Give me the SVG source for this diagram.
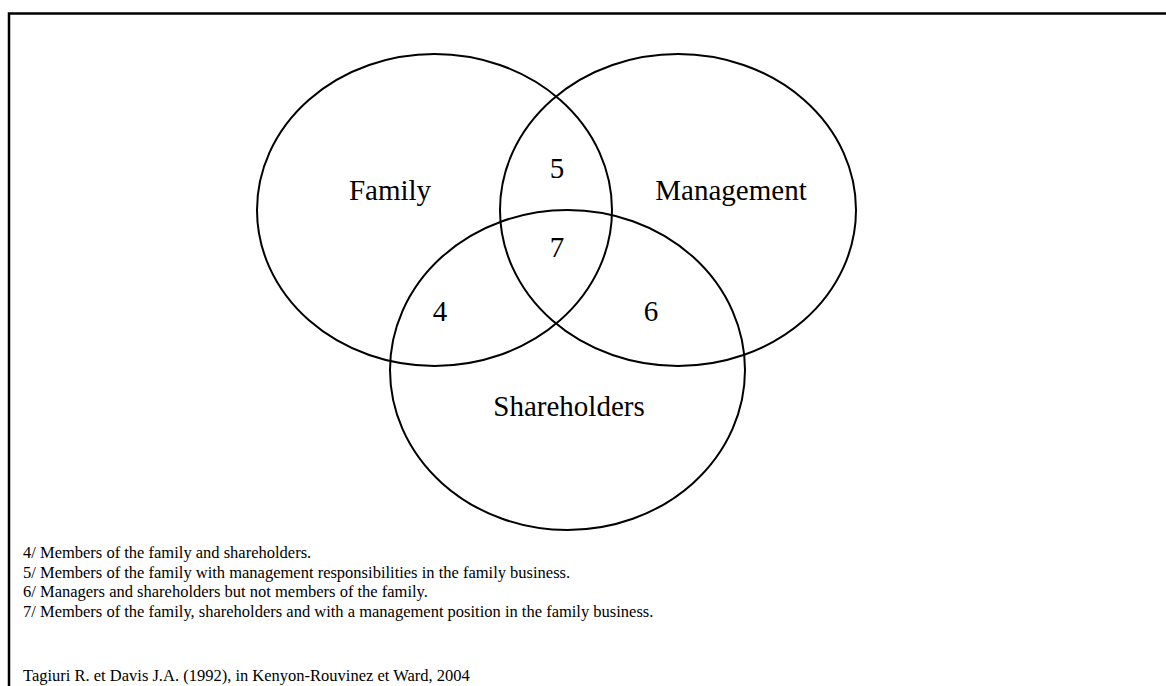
<svg xmlns="http://www.w3.org/2000/svg" width="1166" height="686" viewBox="0 0 1166 686">
<style>
.set{fill:none;stroke:#000;stroke-width:2}
.lbl{font-family:"Liberation Serif","Times New Roman",serif;font-size:29px;fill:#000;text-anchor:middle}
.note{font-family:"Liberation Serif","Times New Roman",serif;font-size:16.5px;fill:#000}
</style>
<rect width="1166" height="686" fill="#fff"/>
<g id="frame"><path d="M9 686 V13.5 H1166" fill="none" stroke="#000" stroke-width="2.5"/></g>
<g id="family"><ellipse class="set" cx="434.5" cy="210" rx="177.5" ry="156"/><text class="lbl" x="390" y="200">Family</text></g>
<g id="management"><ellipse class="set" cx="678" cy="210" rx="178" ry="156"/><text class="lbl" x="731" y="200">Management</text></g>
<g id="shareholders"><ellipse class="set" cx="567.5" cy="370" rx="177.5" ry="160"/><text class="lbl" x="569" y="416">Shareholders</text></g>
<g id="regions">
<text class="lbl" x="557" y="178">5</text>
<text class="lbl" x="557" y="257">7</text>
<text class="lbl" x="440" y="321">4</text>
<text class="lbl" x="651" y="321">6</text>
</g>
<g id="connectors"></g>
<g id="notes">
<text class="note" x="23" y="558">4/ Members of the family and shareholders.</text>
<text class="note" x="23" y="578">5/ Members of the family with management responsibilities in the family business.</text>
<text class="note" x="23" y="597">6/ Managers and shareholders but not members of the family.</text>
<text class="note" x="23" y="617">7/ Members of the family, shareholders and with a management position in the family business.</text>
<text class="note" x="23" y="681">Tagiuri R. et Davis J.A. (1992), in Kenyon-Rouvinez et Ward, 2004</text>
</g>
</svg>
